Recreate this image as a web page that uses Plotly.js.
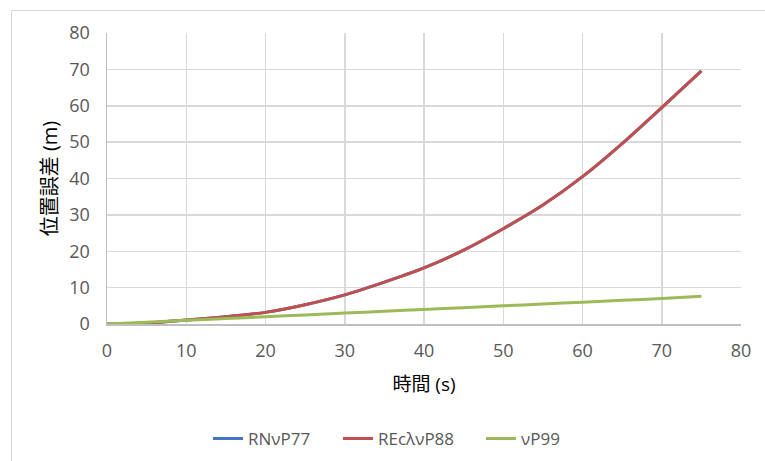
<!DOCTYPE html>
<html>
<head>
<meta charset="utf-8">
<script src="https://cdn.plot.ly/plotly-3.0.1.min.js"></script>
<style>
html,body{margin:0;padding:0;background:#fff;}
#frame{position:absolute;left:11px;top:10px;width:800px;height:500px;border-left:1px solid #d9d9d9;border-top:1px solid #d9d9d9;pointer-events:none;z-index:5;}
#chart{position:absolute;left:0;top:0;width:765px;height:461px;}
</style>
</head>
<body>
<div id="chart"></div>
<div id="frame"></div>
<script>
const time = [0, 5, 10, 15, 20, 25, 30, 35, 40, 45, 50, 55, 60, 65, 70, 75];
const rnvp77 = [0, 0.3, 1.1, 2.0, 3.2, 5.3, 8.0, 11.5, 15.4, 20.3, 26.2, 32.7, 40.5, 49.6, 59.5, 69.6];
const recvp88 = [0, 0.3, 1.1, 2.0, 3.2, 5.3, 8.0, 11.5, 15.4, 20.3, 26.2, 32.7, 40.5, 49.6, 59.5, 69.6];
const vp99 = [0, 0.5, 1.0, 1.5, 2.0, 2.5, 3.0, 3.5, 4.0, 4.5, 5.0, 5.5, 6.0, 6.5, 7.0, 7.6];
const names = ['RNνP77', 'REcλνP88', 'νP99'];
const xTicks = [0, 10, 20, 30, 40, 50, 60, 70, 80];
const yTicks = [0, 10, 20, 30, 40, 50, 60, 70, 80];

const fontFam = 'Open Sans, Noto Sans CJK JP, sans-serif';
const traces = [
  {x: time, y: rnvp77, name: names[0], legend: 'legend', mode: 'lines', line: {color: '#4472C4', width: 3, shape: 'spline', smoothing: 0.6}},
  {x: time, y: recvp88, name: names[1], legend: 'legend2', mode: 'lines', line: {color: '#C0504D', width: 3, shape: 'spline', smoothing: 0.6}},
  {x: time, y: vp99, name: names[2], legend: 'legend3', mode: 'lines', line: {color: '#9BBB59', width: 3, shape: 'spline', smoothing: 0.6}}
];
function leg(px) {
  return {orientation: 'h', x: (px - 107) / 634, xanchor: 'left', y: -0.395, yanchor: 'middle',
          font: {size: 17, color: '#595959'}, bgcolor: 'rgba(0,0,0,0)'};
}
const layout = {
  width: 765, height: 461,
  margin: {l: 107, r: 24, t: 33, b: 137, autoexpand: false},
  paper_bgcolor: '#fff', plot_bgcolor: '#fff',
  font: {family: fontFam, color: '#595959', size: 17},
  showlegend: true,
  legend: leg(208),
  legend2: leg(338),
  legend3: leg(481),
  xaxis: {
    range: [0, 80], tickvals: xTicks, ticktext: xTicks.map(String),
    showgrid: true, gridcolor: '#d9d9d9', gridwidth: 1.5, zeroline: false,
    showline: true, linecolor: '#bfbfbf', linewidth: 1.5, ticks: '',
    automargin: false,
    ticklabelstandoff: 10,
    tickfont: {size: 18, color: '#595959'},
    title: {text: '時間 (s)', font: {size: 19, color: '#000', family: fontFam}, standoff: 16}
  },
  yaxis: {
    range: [0, 80], tickvals: yTicks, ticktext: yTicks.map(String),
    showgrid: true, gridcolor: '#d9d9d9', gridwidth: 1.5, zeroline: false,
    showline: true, linecolor: '#bfbfbf', linewidth: 1.5, ticks: '',
    automargin: false,
    ticklabelstandoff: 12,
    tickfont: {size: 18, color: '#595959'},
    title: {text: '位置誤差 (m)', font: {size: 20, color: '#000', family: fontFam}, standoff: 6}
  }
};
Plotly.newPlot('chart', traces, layout, {displayModeBar: false, staticPlot: true});
</script>
</body>
</html>
